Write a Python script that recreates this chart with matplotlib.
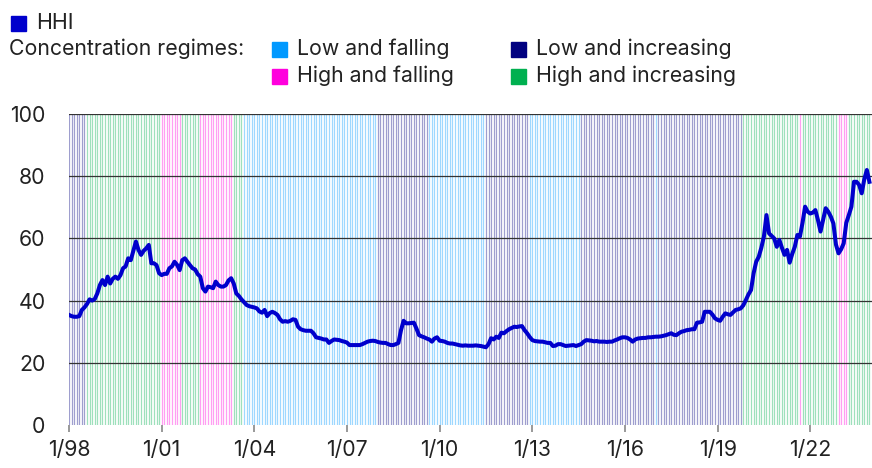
import matplotlib
matplotlib.use("Agg")
import matplotlib.pyplot as plt
from matplotlib.patches import Rectangle
import numpy as np

plt.rcParams['font.family'] = ['Inter', 'DejaVu Sans']

# monthly HHI, Jan 1998 .. Dec 2023 (one row per year)
hhi = [
    35.4, 35.0, 34.8, 34.8, 35.0, 37.0, 37.8, 38.9, 40.4, 40.0, 40.5, 42.3,
    45.0, 46.6, 45.0, 47.7, 45.5, 47.0, 47.7, 47.0, 48.2, 50.4, 51.0, 53.6,
    53.0, 56.0, 59.0, 56.3, 54.7, 56.0, 56.8, 57.9, 52.0, 52.0, 51.4, 48.8,
    48.2, 48.6, 48.6, 50.4, 51.0, 52.5, 51.5, 49.8, 53.0, 53.6, 52.5, 51.4,
    50.4, 50.0, 48.5, 47.7, 44.0, 42.9, 44.5, 44.3, 44.0, 46.1, 45.0, 44.5,
    44.5, 45.0, 46.5, 47.2, 45.5, 42.3, 41.5, 40.4, 39.5, 38.6, 38.2, 38.0,
    37.8, 37.5, 36.5, 36.1, 37.0, 35.0, 36.0, 36.4, 36.0, 35.4, 34.0, 33.2,
    33.4, 33.2, 33.5, 34.0, 33.8, 31.6, 30.8, 30.5, 30.3, 30.3, 30.3, 29.5,
    28.2, 28.0, 27.8, 27.5, 27.5, 26.4, 27.0, 27.5, 27.4, 27.3, 27.0, 26.8,
    26.5, 25.7, 25.7, 25.7, 25.7, 25.7, 26.0, 26.4, 26.8, 27.0, 27.1, 27.0,
    26.7, 26.5, 26.4, 26.4, 26.0, 25.7, 25.7, 26.0, 26.4, 30.5, 33.5, 32.7,
    32.7, 32.8, 32.9, 31.0, 28.9, 28.5, 28.2, 27.8, 27.5, 26.8, 27.8, 28.2,
    27.1, 27.0, 26.8, 26.4, 26.2, 26.2, 26.0, 25.8, 25.6, 25.5, 25.6, 25.5,
    25.5, 25.5, 25.6, 25.5, 25.4, 25.2, 25.0, 26.0, 27.9, 27.5, 28.4, 28.0,
    29.7, 29.5, 30.2, 30.8, 31.2, 31.6, 31.5, 31.7, 31.8, 30.5, 29.5, 28.3,
    27.3, 27.0, 26.9, 26.8, 26.8, 26.6, 26.4, 26.4, 25.4, 25.5, 26.0, 26.0,
    25.7, 25.4, 25.5, 25.6, 25.7, 25.4, 25.7, 26.0, 26.8, 27.3, 27.2, 27.1,
    26.9, 27.0, 26.8, 26.8, 26.8, 26.7, 26.8, 26.8, 27.2, 27.5, 27.9, 28.2,
    28.2, 28.0, 27.5, 26.8, 27.5, 27.8, 27.9, 28.0, 28.0, 28.2, 28.2, 28.3,
    28.4, 28.4, 28.5, 28.7, 28.9, 29.2, 29.5, 29.0, 28.9, 29.5, 30.0, 30.2,
    30.5, 30.6, 30.8, 30.8, 32.9, 33.0, 33.2, 36.4, 36.4, 36.4, 35.5, 34.3,
    33.8, 33.5, 34.8, 35.9, 35.6, 35.4, 36.2, 37.0, 37.2, 37.5, 38.5, 40.2,
    42.0, 43.4, 48.8, 52.5, 54.1, 57.0, 60.6, 67.5, 61.6, 60.8, 60.0, 57.3,
    59.5, 57.0, 54.7, 56.3, 52.2, 55.0, 57.3, 61.1, 60.6, 65.0, 70.2, 68.6,
    68.0, 68.3, 69.1, 65.9, 62.2, 66.0, 69.7, 68.6, 67.0, 64.8, 58.0, 55.2,
    56.5, 58.4, 65.0, 67.5, 70.2, 78.2, 78.2, 77.2, 74.5, 79.0, 82.0, 78.2,
]

# regime runs: (regime, number of months)
regime_runs = [
    ("LI", 7), ("HI", 29), ("HF", 8), ("HI", 7), ("HF", 13), ("HI", 4),
    ("LF", 52), ("LI", 20), ("LF", 22), ("LI", 17), ("LF", 20), ("LI", 29),
    ("LF", 1), ("LI", 33), ("HI", 22), ("HF", 1), ("HI", 14), ("HF", 4),
    ("HI", 9),
]

regime_names = {
    "LF": "Low and falling",
    "LI": "Low and increasing",
    "HF": "High and falling",
    "HI": "High and increasing",
}
regime_colors = {"LF": "#0099ff", "LI": "#000080", "HF": "#ff00dd", "HI": "#00b050"}

tick_labels = ["1/98", "1/01", "1/04", "1/07", "1/10", "1/13", "1/16", "1/19", "1/22"]

months = np.arange(len(hhi))
regimes = [r for r, n in regime_runs for _ in range(n)]

fig = plt.figure(figsize=(8.72, 4.68), dpi=100)
ax = fig.add_axes([69 / 872, 43 / 468, 803 / 872, 311 / 468])

# regime background, one thin line per month
for key, col in regime_colors.items():
    xs = [m for m, r in zip(months, regimes) if r == key]
    ax.vlines(xs, 0, 100, colors=col, alpha=0.38, linewidth=0.9, zorder=1)

for yv in range(20, 101, 20):
    ax.axhline(yv, color="#333333", linewidth=0.9, zorder=2)

ax.plot(months, hhi, color="#0000cc", linewidth=2.9, zorder=3,
        solid_joinstyle="round")

ax.set_xlim(0, 312)
ax.set_ylim(0, 100)
ax.set_yticks(range(0, 101, 20))
ax.set_xticks(np.arange(0, 312, 36))
ax.set_xticklabels(tick_labels)
ax.tick_params(axis="y", length=0, pad=17, labelsize=15.3, colors="#222222")
ax.tick_params(axis="x", length=5, width=1.2, color="#888888", pad=6,
               labelsize=15.3, labelcolor="#222222")
for s in ax.spines.values():
    s.set_visible(False)


def px(x, y):
    return x / 872, 1 - y / 468


def square(x, y, color):
    fx, fy = px(x, y + 15)
    fig.add_artist(Rectangle((fx, fy), 15 / 872, 15 / 468, color=color,
                             transform=fig.transFigure))


def label(x, y, s):
    fx, fy = px(x, y)
    fig.text(fx, fy, s, fontsize=15.3, va="center", ha="left", color="#222222")


square(11, 16, "#0000cc")
label(36, 23, "HHI")
label(9, 49, "Concentration regimes:")
square(272, 42, regime_colors["LF"])
label(297, 49, regime_names["LF"])
square(511, 42, regime_colors["LI"])
label(536, 49, regime_names["LI"])
square(272, 69, regime_colors["HF"])
label(297, 76, regime_names["HF"])
square(511, 69, regime_colors["HI"])
label(536, 76, regime_names["HI"])

fig.savefig("out.png", dpi=100)
